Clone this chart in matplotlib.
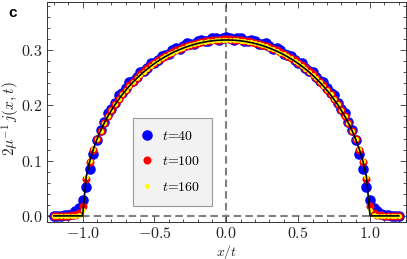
import numpy as np
import matplotlib
matplotlib.use("Agg")
import matplotlib.pyplot as plt

# x/t grid (step 0.025 from -1.2 to 1.2)
x_grid = np.round(np.arange(-1.2, 1.2001, 0.025), 4)

blue_t40 = [0, 0, 0, 0.001, 0.002, 0.004, 0.008, 0.015, 0.028, 0.052, 0.085, 0.112,
            0.138, 0.156, 0.170, 0.187, 0.193, 0.205, 0.218, 0.222, 0.231, 0.242, 0.244, 0.251,
            0.261, 0.262, 0.268, 0.277, 0.277, 0.282, 0.290, 0.291, 0.293, 0.300, 0.304, 0.302,
            0.307, 0.312, 0.311, 0.311, 0.316, 0.318, 0.316, 0.317, 0.321, 0.322, 0.319, 0.321,
            0.323,
            0.321, 0.319, 0.322, 0.321, 0.317, 0.316, 0.318, 0.316, 0.311, 0.311, 0.312, 0.307,
            0.302, 0.304, 0.300, 0.293, 0.291, 0.290, 0.282, 0.277, 0.277, 0.268, 0.262, 0.261,
            0.251, 0.244, 0.242, 0.231, 0.222, 0.218, 0.205, 0.193, 0.187, 0.170, 0.156, 0.138,
            0.112, 0.085, 0.052, 0.028, 0.015, 0.008, 0.004, 0.002, 0.001, 0, 0, 0]

red_t100 = [0, 0, 0, 0, 0, 0.001, 0.002, 0.005, 0.018, 0.0670, 0.0975, 0.1200,
            0.1385, 0.1543, 0.1682, 0.1806, 0.1918, 0.2022, 0.2115, 0.2203, 0.2284, 0.2360, 0.2431, 0.2497,
            0.2559, 0.2617, 0.2671, 0.2722, 0.2770, 0.2814, 0.2856, 0.2894, 0.2930, 0.2964, 0.2995, 0.3024,
            0.3050, 0.3073, 0.3095, 0.3115, 0.3133, 0.3148, 0.3160, 0.3172, 0.3180, 0.3185, 0.3190, 0.3195,
            0.3195,
            0.3195, 0.3190, 0.3185, 0.3180, 0.3172, 0.3160, 0.3148, 0.3133, 0.3115, 0.3095, 0.3073, 0.3050,
            0.3024, 0.2995, 0.2964, 0.2930, 0.2894, 0.2856, 0.2814, 0.2770, 0.2722, 0.2671, 0.2617, 0.2559,
            0.2497, 0.2431, 0.2360, 0.2284, 0.2203, 0.2115, 0.2022, 0.1918, 0.1806, 0.1682, 0.1543, 0.1385,
            0.1200, 0.0975, 0.0670, 0.018, 0.005, 0.002, 0.001, 0, 0, 0, 0, 0]

yellow_t160 = [0, 0, 0, 0, 0, 0, 0, 0.001, 0.010, 0.0695, 0.0990, 0.1208,
               0.1388, 0.1543, 0.1680, 0.1803, 0.1914, 0.2016, 0.2110, 0.2197, 0.2278, 0.2354, 0.2424, 0.2490,
               0.2551, 0.2609, 0.2663, 0.2714, 0.2762, 0.2806, 0.2848, 0.2886, 0.2922, 0.2956, 0.2987, 0.3015,
               0.3041, 0.3065, 0.3087, 0.3106, 0.3124, 0.3139, 0.3152, 0.3163, 0.3172, 0.3179, 0.3184, 0.3187,
               0.3188,
               0.3187, 0.3184, 0.3179, 0.3172, 0.3163, 0.3152, 0.3139, 0.3124, 0.3106, 0.3087, 0.3065, 0.3041,
               0.3015, 0.2987, 0.2956, 0.2922, 0.2886, 0.2848, 0.2806, 0.2762, 0.2714, 0.2663, 0.2609, 0.2551,
               0.2490, 0.2424, 0.2354, 0.2278, 0.2197, 0.2110, 0.2016, 0.1914, 0.1803, 0.1680, 0.1543, 0.1388,
               0.1208, 0.0990, 0.0695, 0.010, 0.001, 0, 0, 0, 0, 0, 0, 0]

theory = [0, 0, 0, 0, 0, 0, 0, 0, 0.0, 0.0707, 0.0994, 0.1209,
          0.1387, 0.1541, 0.1677, 0.1799, 0.1910, 0.2012, 0.2105, 0.2192, 0.2273, 0.2349, 0.2419, 0.2485,
          0.2546, 0.2604, 0.2658, 0.2709, 0.2757, 0.2801, 0.2843, 0.2881, 0.2917, 0.2951, 0.2982, 0.3010,
          0.3036, 0.3060, 0.3082, 0.3101, 0.3119, 0.3134, 0.3147, 0.3158, 0.3167, 0.3174, 0.3179, 0.3182,
          0.3183,
          0.3182, 0.3179, 0.3174, 0.3167, 0.3158, 0.3147, 0.3134, 0.3119, 0.3101, 0.3082, 0.3060, 0.3036,
          0.3010, 0.2982, 0.2951, 0.2917, 0.2881, 0.2843, 0.2801, 0.2757, 0.2709, 0.2658, 0.2604, 0.2546,
          0.2485, 0.2419, 0.2349, 0.2273, 0.2192, 0.2105, 0.2012, 0.1910, 0.1799, 0.1677, 0.1541, 0.1387,
          0.1209, 0.0994, 0.0707, 0.0, 0, 0, 0, 0, 0, 0, 0, 0]

labels = ["$t$=40", "$t$=100", "$t$=160"]
x_ticks = [-1.0, -0.5, 0.0, 0.5, 1.0]
y_ticks = [0.0, 0.1, 0.2, 0.3]

plt.rcParams['mathtext.fontset'] = 'cm'
plt.rcParams['font.family'] = 'cmr10'
plt.rcParams['axes.formatter.use_mathtext'] = True

fig = plt.figure(figsize=(4.07, 2.59), dpi=100)
ax = fig.add_axes([0.1147, 0.1429, 0.8828, 0.8494])

ax.axvline(0, color='#808080', lw=1.5, ls=(0, (3.6, 2.0)), zorder=1)
ax.axhline(0, color='#808080', lw=1.5, ls=(0, (3.6, 2.0)), zorder=1)

ax.plot(x_grid, blue_t40, 'o', color='#0000ff', ms=7.6, mew=0, label=labels[0], zorder=2)
ax.plot(x_grid, red_t100, 'o', color='#ff0000', ms=5.8, mew=0, label=labels[1], zorder=3)
ax.plot(x_grid, yellow_t160, 'o', color='#ffff00', ms=3.6, mew=0, label=labels[2], zorder=4)
ax.plot(x_grid, theory, '-', color='black', lw=1.2, zorder=5)

ax.set_xlim(-1.25, 1.25)
ax.set_ylim(-0.011, 0.387)
ax.set_xticks(x_ticks)
ax.set_yticks(y_ticks)
ax.set_xticklabels([f"${v:.1f}$" for v in x_ticks])
ax.set_yticklabels([f"${v:.1f}$" for v in y_ticks])
ax.set_xticks(np.arange(-1.2, 1.21, 0.1), minor=True)
ax.set_yticks(np.arange(0.0, 0.381, 0.02), minor=True)
ax.tick_params(which='both', direction='in', top=True, right=True, labelsize=11.5,
               color='#333333', labelcolor='#222222', width=0.6)
ax.tick_params(axis='x', pad=3)
ax.tick_params(axis='y', pad=3)
ax.tick_params(which='major', length=4)
ax.tick_params(which='minor', length=2.2)
for s in ax.spines.values():
    s.set_color('#333333')
    s.set_linewidth(0.7)

ax.set_xlabel('$x/t$', fontsize=10, color='#222222')
ax.xaxis.set_label_coords(0.5, -0.094)
ax.set_ylabel(r'$2\mu^{-1}\,j(x,t)$', fontsize=11, color='#222222')
ax.yaxis.set_label_coords(-0.07, 0.47)

leg = ax.legend(loc='lower left', bbox_to_anchor=(0.240, 0.073), fontsize=10,
                frameon=True, fancybox=False, borderpad=0.85, labelspacing=0.92,
                handlelength=0.4, handletextpad=0.83, borderaxespad=0)
leg.get_frame().set_facecolor('#f2f2f2')
leg.get_frame().set_edgecolor('#999999')
leg.get_frame().set_linewidth(0.8)
leg.get_frame().set_alpha(1)

fig.text(0.02, 0.935, 'c', fontsize=11, fontweight='bold', family='Liberation Sans')

fig.savefig('out.png', dpi=100)
